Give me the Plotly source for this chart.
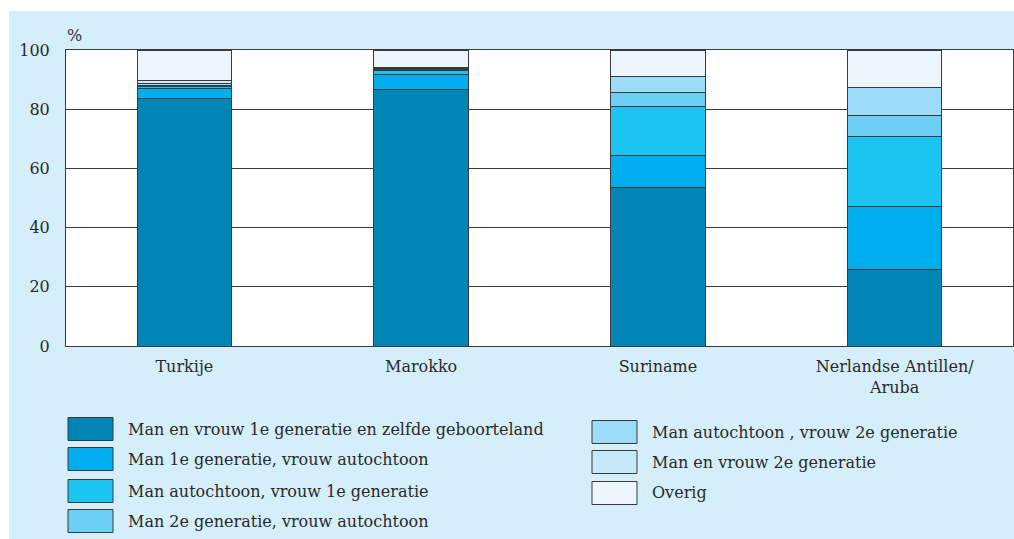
import plotly.graph_objects as go

categories = ["Turkije", "Marokko", "Suriname", "Nerlandse Antillen/<br>Aruba"]
series_names = [
    "Man en vrouw 1e generatie en zelfde geboorteland",
    "Man 1e generatie, vrouw autochtoon",
    "Man autochtoon, vrouw 1e generatie",
    "Man 2e generatie, vrouw autochtoon",
    "Man autochtoon , vrouw 2e generatie",
    "Man en vrouw 2e generatie",
    "Overig",
]
s1 = [83.5, 86.7, 53.7, 26.0]
s2 = [3.5, 4.9, 10.8, 21.0]
s3 = [0.7, 1.6, 16.4, 23.7]
s4 = [0.4, 0.3, 4.7, 7.1]
s5 = [0.5, 0.3, 5.3, 9.5]
s6 = [1.0, 0.4, 0.3, 0.0]
s7 = [10.4, 5.8, 8.8, 12.7]
series_values = [s1, s2, s3, s4, s5, s6, s7]
colors = ["#0085b5", "#00aeef", "#1cc4f1", "#6ccff6", "#9cdcf8", "#c6e9fa", "#eef6fd"]
y_ticks = [0, 20, 40, 60, 80, 100]

FONT = "DejaVu Serif"
W, H = 1014, 539
L, R, T, B = 66, 1, 50, 193
PW, PH = W - L - R, H - T - B


def xp(px):
    return (px - L) / PW


def yp(py):
    return (T + PH - py) / PH


fig = go.Figure()
for name, vals, col in zip(series_names, series_values, colors):
    fig.add_trace(go.Bar(
        x=categories, y=vals, name=name,
        marker=dict(color=col, line=dict(color="#3a3a3a", width=1)),
        width=0.4, showlegend=False,
    ))

shapes = [
    dict(type="rect", xref="paper", yref="paper", x0=xp(9), x1=xp(1030), y0=yp(560), y1=yp(11),
         fillcolor="#d4eefa", line=dict(width=0), layer="below"),
    dict(type="rect", xref="paper", yref="paper", x0=0, x1=1, y0=0, y1=1,
         fillcolor="white", line=dict(width=0), layer="below"),
]
annotations = [
    dict(text="%", xref="paper", yref="paper", x=xp(74), y=yp(35), showarrow=False,
         font=dict(family=FONT, size=16, color="#333"), xanchor="center", yanchor="middle"),
]

left_rows = [429, 459, 491, 521]
right_rows = [432, 462, 493]
positions = [(68, r) for r in left_rows] + [(592, r) for r in right_rows]
for (sx, cy), name, col in zip(positions, series_names, colors):
    shapes.append(dict(type="rect", xref="paper", yref="paper",
                       x0=xp(sx), x1=xp(sx + 45), y0=yp(cy + 11.5), y1=yp(cy - 11.5),
                       fillcolor=col, line=dict(color="#3a3a3a", width=1)))
    annotations.append(dict(text=name, xref="paper", yref="paper", x=xp(sx + 58), y=yp(cy),
                            showarrow=False, xanchor="left", yanchor="middle",
                            font=dict(family=FONT, size=16, color="#2a2a2a")))

fig.update_layout(
    barmode="stack",
    width=W, height=H,
    margin=dict(l=L, r=R, t=T, b=B, pad=0),
    paper_bgcolor="white",
    plot_bgcolor="rgba(0,0,0,0)",
    shapes=shapes,
    annotations=annotations,
    font=dict(family=FONT, size=16, color="#2a2a2a"),
    xaxis=dict(showgrid=False, showline=True, linecolor="#3a3a3a", linewidth=1, mirror=True,
               ticks="", ticklabelstandoff=6, tickfont=dict(family=FONT, size=16, color="#2a2a2a")),
    yaxis=dict(range=[0, 100], tickvals=y_ticks, showgrid=True, gridcolor="#3a3a3a", gridwidth=1,
               showline=True, linecolor="#3a3a3a", linewidth=1, mirror=True, zeroline=False,
               ticks="", ticklabelstandoff=12, tickfont=dict(family=FONT, size=16, color="#2a2a2a")),
)

fig.write_html(
    "out.html",
    config={"displayModeBar": False},
    post_script="document.body.style.margin='0';document.body.style.overflow='hidden';"
                "document.documentElement.style.overflow='hidden';",
)
